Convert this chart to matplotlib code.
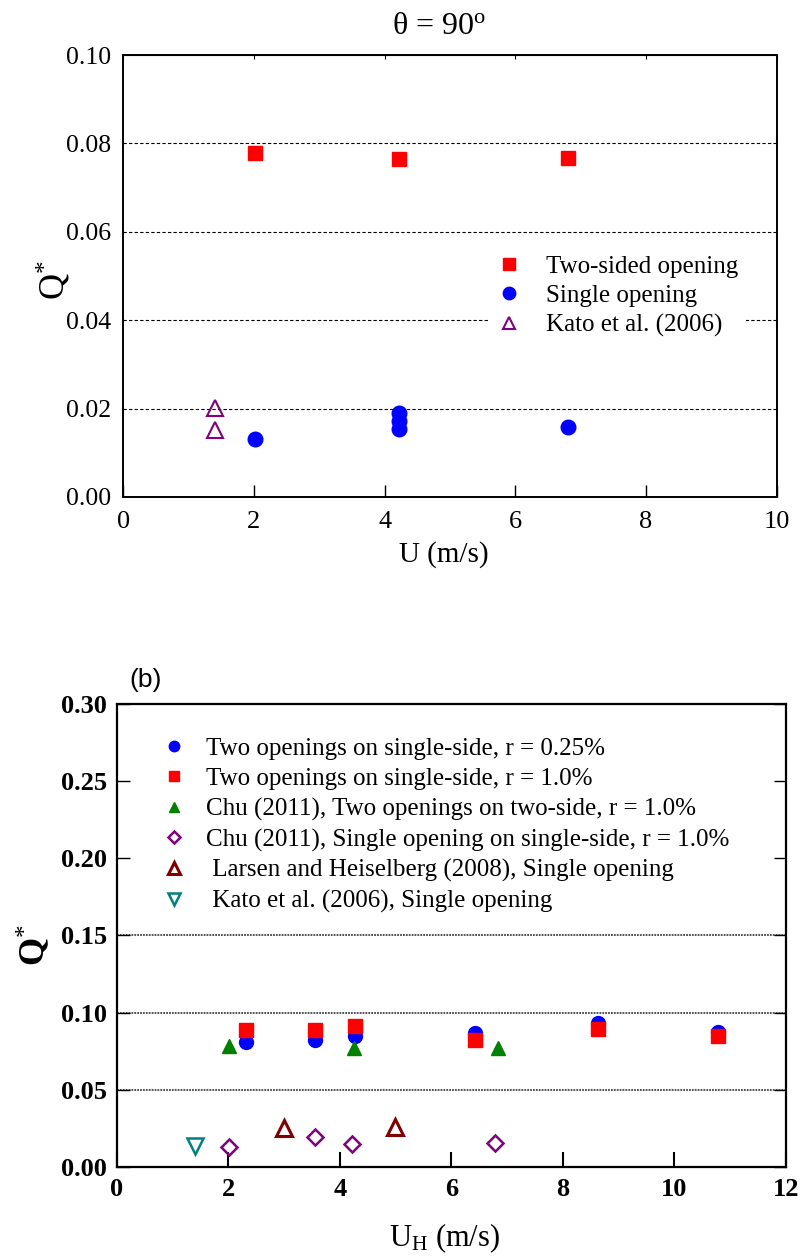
import matplotlib
matplotlib.use("Agg")
import matplotlib.pyplot as plt

plt.rcParams['font.family'] = ['Liberation Serif', 'DejaVu Serif']
plt.rcParams['mathtext.fontset'] = 'custom'
plt.rcParams['mathtext.rm'] = 'Liberation Serif'
plt.rcParams['mathtext.it'] = 'Liberation Serif:italic'
plt.rcParams['mathtext.bf'] = 'Liberation Serif:bold'

# ---- panel (a): theta = 90 deg ----
u_two = [2.02, 4.22, 6.81]
q_two = [0.0778, 0.0765, 0.0767]

u_single = [2.02, 4.22, 4.22, 4.22, 6.80]
q_single = [0.0131, 0.0190, 0.0172, 0.0154, 0.0158]

u_kato_a = [1.40, 1.40]
q_kato_a = [0.0201, 0.0152]

# ---- panel (b) ----
u_b = [2.31, 3.56, 4.28, 6.43, 8.63, 10.78]
q_r025 = [0.0812, 0.0820, 0.0848, 0.0870, 0.0930, 0.0874]
q_r10 = [0.0887, 0.0887, 0.0915, 0.0822, 0.0892, 0.0848]

u_chu_two = [2.02, 4.25, 6.84]
q_chu_two = [0.0786, 0.0769, 0.0773]

u_chu_single = [2.02, 3.55, 4.22, 6.79]
q_chu_single = [0.0128, 0.0196, 0.0149, 0.0153]

u_larsen = [2.99, 4.98]
q_larsen = [0.0255, 0.0261]

u_kato_b = [1.40]
q_kato_b = [0.0136]

fig = plt.figure(figsize=(8, 12.6), dpi=100)

# ================= top panel =================
ax1 = fig.add_axes([0.154, 0.6056, 0.817, 0.3507])
ax1.set_xlim(0, 10)
ax1.set_ylim(0, 0.10)
ax1.set_xticks(range(0, 11, 2))
ax1.set_yticks([0.0, 0.02, 0.04, 0.06, 0.08, 0.10])
ax1.set_yticklabels(['0.00', '0.02', '0.04', '0.06', '0.08', '0.10'])
for y in [0.02, 0.04, 0.06, 0.08]:
    ax1.axhline(y, color='black', lw=0.8, ls=(0, (3, 2)), zorder=0)

ax1.plot(u_two, q_two, ls='none', marker='s', ms=9.5, color='#ff0000',
         mec='#ff0000', label='Two-sided opening', zorder=3)
ax1.plot(u_single, q_single, ls='none', marker='o', ms=10.5, color='#0000ff',
         mec='#0000ff', label='Single opening', zorder=3)
ax1.plot(u_kato_a, q_kato_a, ls='none', marker='^', ms=11, mfc='none',
         mec='#800080', mew=1.5, label='Kato et al. (2006)', zorder=3)

ax1.tick_params(axis='x', which='both', direction='in', length=9, width=1,
                top=False, labelsize=19, pad=10)
ax1.tick_params(axis='y', direction='in', length=0, labelsize=18.5, pad=9)
ax1.secondary_xaxis('top').tick_params(direction='in', length=3, labeltop=False)
for sp in ax1.spines.values():
    sp.set_linewidth(1.4)

leg1 = ax1.legend(loc='upper left', bbox_to_anchor=(0.540, 0.592), frameon=True,
                  facecolor='white', edgecolor='none', framealpha=1,
                  fontsize=18, handlelength=1.0, handletextpad=1.0,
                  labelspacing=0.27, borderpad=0.3, markerscale=0.85,
                  fancybox=False)
leg1.set_zorder(2)

ax1.set_xlabel('U (m/s)', fontsize=21)
ax1.xaxis.set_label_coords(0.49, -0.100)
ax1.set_ylabel(r'Q$^{*}$', fontsize=26)
ax1.yaxis.set_label_coords(-0.076, 0.49)
fig.text(0.549, 0.979, r'θ = 90$^{\mathrm{o}}$', fontsize=23,
         ha='center', va='center')

# ================= bottom panel =================
ax2 = fig.add_axes([0.146, 0.0738, 0.8365, 0.3675])
ax2.set_xlim(0, 12)
ax2.set_ylim(0, 0.30)
ax2.set_xticks(range(0, 13, 2))
ax2.set_yticks([0.0, 0.05, 0.10, 0.15, 0.20, 0.25, 0.30])
ax2.set_yticklabels(['0.00', '0.05', '0.10', '0.15', '0.20', '0.25', '0.30'])
for y in [0.05, 0.10, 0.15]:
    ax2.axhline(y, color='#444444', lw=1.3, ls=(0, (1, 0.6)), zorder=0)

ax2.plot(u_b, q_r025, ls='none', marker='o', ms=10, color='#0000ff',
         mec='#0000ff', label='Two openings on single-side, r = 0.25%', zorder=3)
ax2.plot(u_b, q_r10, ls='none', marker='s', ms=9.5, color='#ff0000',
         mec='#ff0000', label='Two openings on single-side, r = 1.0%', zorder=4)
ax2.plot(u_chu_two, q_chu_two, ls='none', marker='^', ms=10.5, color='#008000',
         mec='#008000', label='Chu (2011), Two openings on two-side, r = 1.0%', zorder=3)
ax2.plot(u_chu_single, q_chu_single, ls='none', marker='D', ms=8, mfc='none',
         mec='#800080', mew=1.8,
         label='Chu (2011), Single opening on single-side, r = 1.0%', zorder=3)
ax2.plot(u_larsen, q_larsen, ls='none', marker='^', ms=12, mfc='none',
         mec='#800000', mew=2.2,
         label=' Larsen and Heiselberg (2008), Single opening', zorder=3)
ax2.plot(u_kato_b, q_kato_b, ls='none', marker='v', ms=11, mfc='none',
         mec='#008080', mew=1.8, label=' Kato et al. (2006), Single opening', zorder=3)

ax2.tick_params(axis='x', direction='in', length=11, width=1.5, labelsize=19, pad=8)
ax2.tick_params(axis='y', direction='in', length=9, width=1, right=True,
                labelsize=19, pad=7)
for lab in ax2.get_xticklabels() + ax2.get_yticklabels():
    lab.set_fontweight('bold')
for sp in ax2.spines.values():
    sp.set_linewidth(1.6)

leg2 = ax2.legend(loc='upper left', bbox_to_anchor=(0.040, 0.966), frameon=True,
                  facecolor='white', edgecolor='none', framealpha=1,
                  fontsize=18, handlelength=1.0, handletextpad=0.8,
                  labelspacing=0.31, borderpad=0.2, markerscale=0.75,
                  fancybox=False)
leg2.set_zorder(2)

ax2.set_xlabel(r'U$_{\mathrm{H}}$ (m/s)', fontsize=22)
ax2.xaxis.set_label_coords(0.49, -0.118)
ax2.set_ylabel(r'$\mathbf{Q}^{*}$', fontsize=26)
ax2.yaxis.set_label_coords(-0.095, 0.48)
fig.text(0.162, 0.460, '(b)', fontsize=19, family='Liberation Sans',
         ha='left', va='center')

fig.savefig('out.png', dpi=100)
